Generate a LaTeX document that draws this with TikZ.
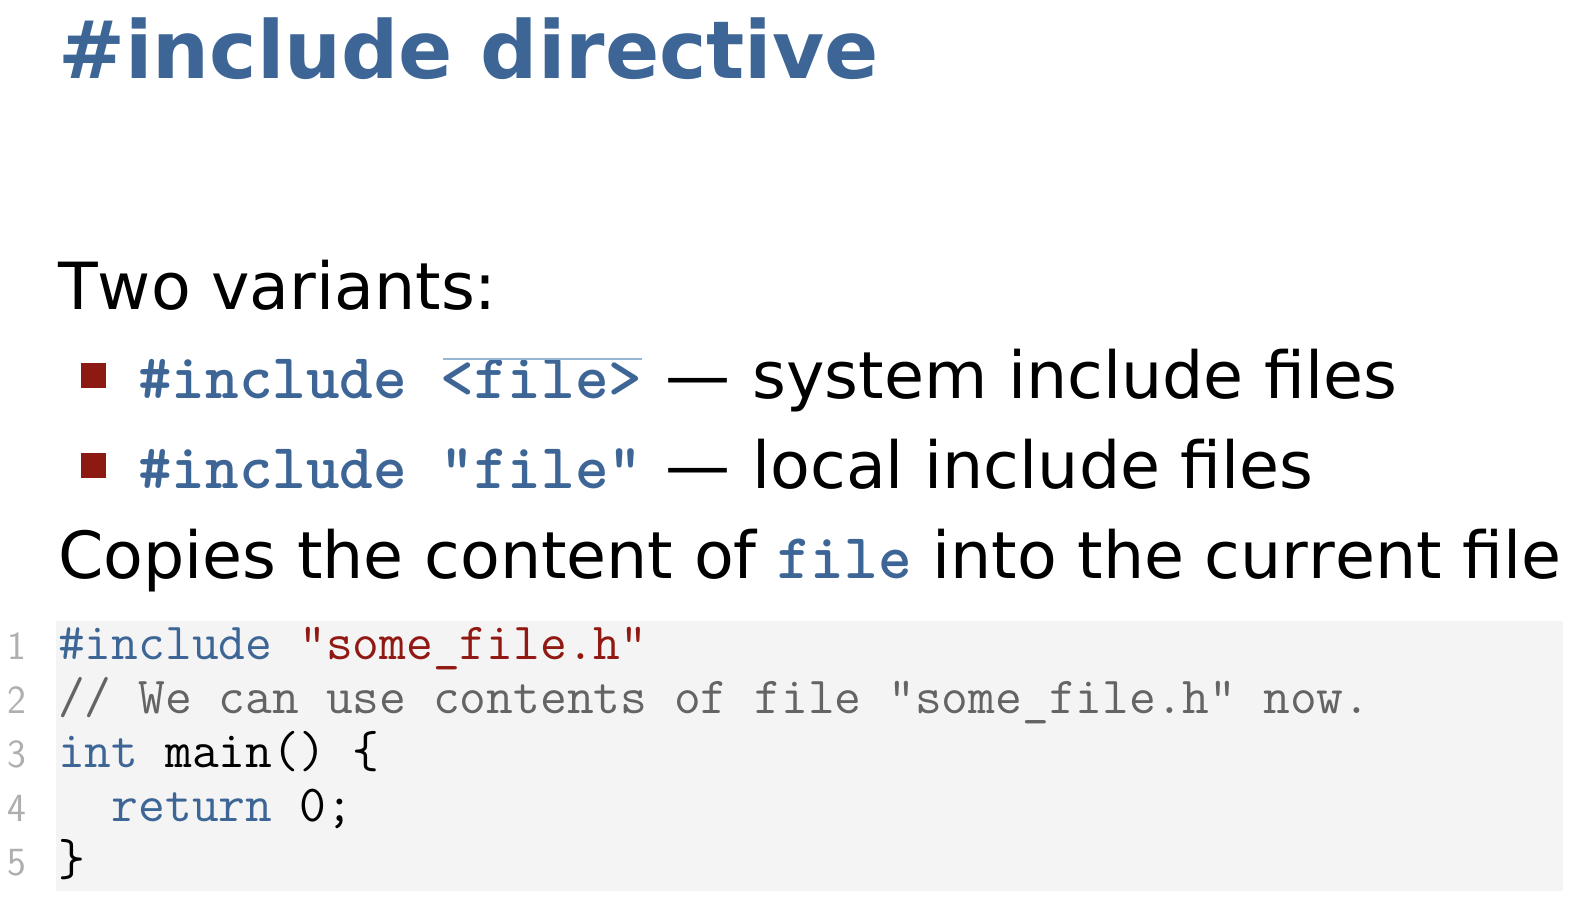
\documentclass[tikz,border=0pt]{standalone}
\usepackage{fontspec}
\setmainfont[Kerning=Off]{DejaVu Sans}
\definecolor{slideblue}{RGB}{61,102,150}
\definecolor{bulletred}{RGB}{140,26,18}
\definecolor{strred}{RGB}{145,25,20}
\definecolor{commentgray}{RGB}{100,100,100}
\definecolor{numgray}{RGB}{175,175,175}
\definecolor{codebg}{RGB}{244,244,244}
\definecolor{barblue}{RGB}{150,182,212}
\newcommand{\inlcode}[1]{{\fontsize{64}{76}\selectfont\ttfamily\bfseries\color{slideblue}#1}}

\begin{document}
\begin{tikzpicture}[x=1pt,y=-1pt]

\tikzstyle{txt}=[anchor=base west, inner sep=0pt, font=\fontsize{65}{76}\selectfont]
\tikzstyle{titletxt}=[anchor=base west, inner sep=0pt, text=slideblue, font=\fontsize{80}{90}\selectfont\bfseries]
\tikzstyle{bulletbox}=[fill=bulletred, minimum size=25pt, inner sep=0pt]
\tikzstyle{codeline}=[anchor=base west, inner sep=0pt, font=\fontsize{52}{60}\selectfont\ttfamily]
\tikzstyle{lineno}=[anchor=base east, inner sep=0pt, text=numgray, font=\fontsize{40}{44}\selectfont\sffamily]

\useasboundingbox (0,0) rectangle (1570,906);

\node (title) [titletxt] at (58,78) {\#include directive};

\node (two) [txt] at (58,309) {Two variants:};

\node (sq1) [bulletbox] at (93.5,375.5) {};
\node (var1) [txt] at (138,398) {\inlcode{\#include <file>}\hspace{3pt} \textemdash{}\hspace{1pt} system include files};
\draw [barblue, line width=2pt] (443,359) -- (642,359);

\node (sq2) [bulletbox] at (93.5,465.5) {};
\node (var2) [txt] at (138,488) {\inlcode{\#include "file"}\hspace{3pt} \textemdash{}\hspace{1pt} local include files};

\node (copies) [txt] at (58,578) {Copies the content of \inlcode{file} into the current file};

\fill [codebg] (56,621) rectangle (1563,891);

\node (n1) [lineno] at (27,659) {1};
\node (n2) [lineno] at (27,713) {2};
\node (n3) [lineno] at (27,767) {3};
\node (n4) [lineno] at (27,821) {4};
\node (n5) [lineno] at (27,875) {5};

\node (c1) [codeline] at (58,659) {\textcolor{slideblue}{\#include} \textcolor{strred}{"some\_file.h"}};
\node (c2) [codeline, text=commentgray] at (58,713) {// We can use contents of file "some\_file.h" now.};
\node (c3) [codeline] at (58,767) {\textcolor{slideblue}{int} main() \{};
\node (c4) [codeline] at (58,821) {\hphantom{xx}\textcolor{slideblue}{return} 0;};
\node (c5) [codeline] at (58,875) {\}};

\end{tikzpicture}
\end{document}
